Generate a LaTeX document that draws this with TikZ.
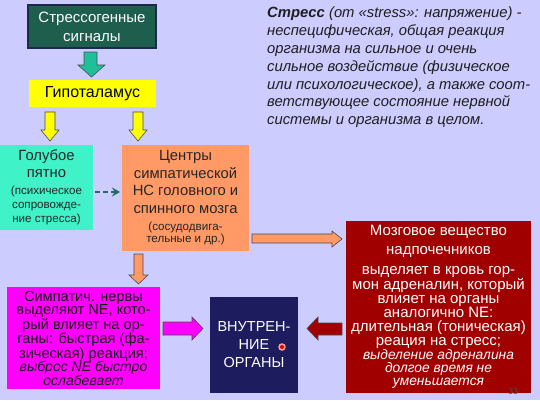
\documentclass[tikz,border=0pt]{standalone}
\usepackage{fontspec}
\setmainfont{Liberation Sans}
\usetikzlibrary{arrows.meta,calc}
\definecolor{bg}{HTML}{CCCCFF}
\definecolor{grn}{HTML}{1D5E4C}
\definecolor{grnb}{HTML}{1A2A48}
\definecolor{yel}{HTML}{FFFF00}
\definecolor{tealbox}{HTML}{40F2C8}
\definecolor{tealarr}{HTML}{1FBF9A}
\definecolor{tealdash}{HTML}{226E66}
\definecolor{orng}{HTML}{FF9966}
\definecolor{dred}{HTML}{A00000}
\definecolor{mag}{HTML}{FF00FF}
\definecolor{navy}{HTML}{1C1C5E}
\definecolor{deftext}{HTML}{1E1E1E}
\newcommand{\smf}{\fontsize{11.6}{13}\selectfont}
\newcommand{\itf}{\fontsize{13.8}{14}\selectfont\itshape}
\newcommand{\itm}{\fontsize{14}{13.3}\selectfont\itshape}
\begin{document}
\begin{tikzpicture}[x=1pt,y=-1pt,
  box/.style={inner sep=0pt,outer sep=0pt,align=center},
  blk/.style={draw=black!70,line width=0.6pt,line join=miter}]
\fill[bg] (0,0) rectangle (540,400);
\useasboundingbox (0,0) rectangle (540,400);
% boxes
\node[box,fill=grn,draw=grnb,line width=1.2pt,minimum width=128pt,minimum height=43pt,
  text=white,font=\fontsize{15}{19}\selectfont] (sig) at (92,26.5) {Стрессогенные\\сигналы};
\node[box,fill=yel,minimum width=127pt,minimum height=27pt,
  font=\fontsize{16}{19}\selectfont] (hyp) at (92.5,93.5) {Гипоталамус};
\node[box,fill=tealbox,minimum width=93pt,minimum height=85pt,text=black!85,
  font=\fontsize{14.8}{17}\selectfont] (blue) at (46.5,187.5)
  {Голубое\\пятно\\{\smf (психическое}\\[-3pt]{\smf сопровожде-}\\[-3pt]{\smf ние стресса)}};
\node[box,fill=orng,minimum width=127pt,minimum height=106pt,text=black!85,
  font=\fontsize{14.8}{17.5}\selectfont] (cent) at (185.5,198)
  {Центры\\симпатической\\НС головного и\\спинного мозга\\{\smf (сосудодвига-}\\[-5.5pt]{\smf тельные и др.)}};
\node[box,fill=dred,minimum width=185pt,minimum height=172pt,text=white,
  font=\fontsize{15}{14}\selectfont] (adr) at (438.5,307)
  {Мозговое вещество\\[5pt]надпочечников\\[6pt]выделяет в кровь гор-\\мон адреналин, который\\влияет на  органы\\аналогично NE:\\длительная (тоническая)\\реация на стресс;\\{\itf выделение адреналина}\\[-1pt]{\itf долгое время не}\\[-1pt]{\itf уменьшается}};
\node[box,fill=mag,minimum width=153pt,minimum height=102pt,text=black!90,
  font=\fontsize{14.6}{13.3}\selectfont] (symp) at (83.5,338)
  {Симпатич. нервы\\выделяют NE, кото-\\рый влияет на ор-\\ганы: быстрая (фа-\\зическая) реакция;\\{\itm выброс NE быстро}\\{\itm ослабевает}};
\node[box,fill=navy,minimum width=88pt,minimum height=96pt,text=white,
  font=\fontsize{14.5}{18}\selectfont] (org) at (254,345) {ВНУТРЕН-\\НИЕ\\ОРГАНЫ};
\fill[red!40] (282,347) circle (3.8pt);
\fill[red!85!black] (282,347) circle (2pt);
% definition text
\node[anchor=north west,inner sep=0pt,align=left,text=deftext,
  font=\fontsize{14.8}{17.8}\selectfont\itshape] (def) at (267,7)
  {{\bfseries Стресс} (от «stress»: напряжение) -\\неспецифическая, общая реакция\\организма на сильное и очень\\сильное воздействие (физическое\\или психологическое), а также соот-\\ветствующее состояние  нервной\\системы и организма в целом.};
% block arrows
\filldraw[blk,fill=tealarr] (84,52)--(97,52)--(97,65)--(105,65)--(91.5,77)--(78,65)--(84,65)--cycle;
\filldraw[blk,fill=yel] (45,112)--(55,112)--(55,130)--(59,130)--(50,141)--(41,130)--(45,130)--cycle;
\filldraw[blk,fill=yel] (133,112)--(143,112)--(143,130)--(147,130)--(138,141)--(129,130)--(133,130)--cycle;
\filldraw[blk,fill=orng] (252,234)--(332,234)--(332,231)--(342,239)--(332,247)--(332,243)--(252,243)--cycle;
\filldraw[blk,fill=orng] (134,254)--(143,254)--(143,275)--(148,275)--(138.5,284)--(129,275)--(134,275)--cycle;
\filldraw[blk,fill=mag] (163,322)--(192,322)--(192,317)--(203,328.5)--(192,340)--(192,335)--(163,335)--cycle;
\filldraw[blk,fill=dred] (342,323)--(318,323)--(318,317)--(307,328.5)--(318,340)--(318,335)--(342,335)--cycle;
% dashed connector
\draw[tealdash,line width=2pt,dash pattern=on 4.5pt off 3.5pt,-{Stealth[length=8pt,width=9pt]}]
  ([xshift=2pt,yshift=-4.5pt]blue.east) -- ([xshift=-2pt,yshift=6pt]cent.west);
% page number
\node[font=\fontsize{9}{10}\selectfont,text=black!70,inner sep=0pt] (pg) at (513,391) {33};
\end{tikzpicture}
\end{document}
